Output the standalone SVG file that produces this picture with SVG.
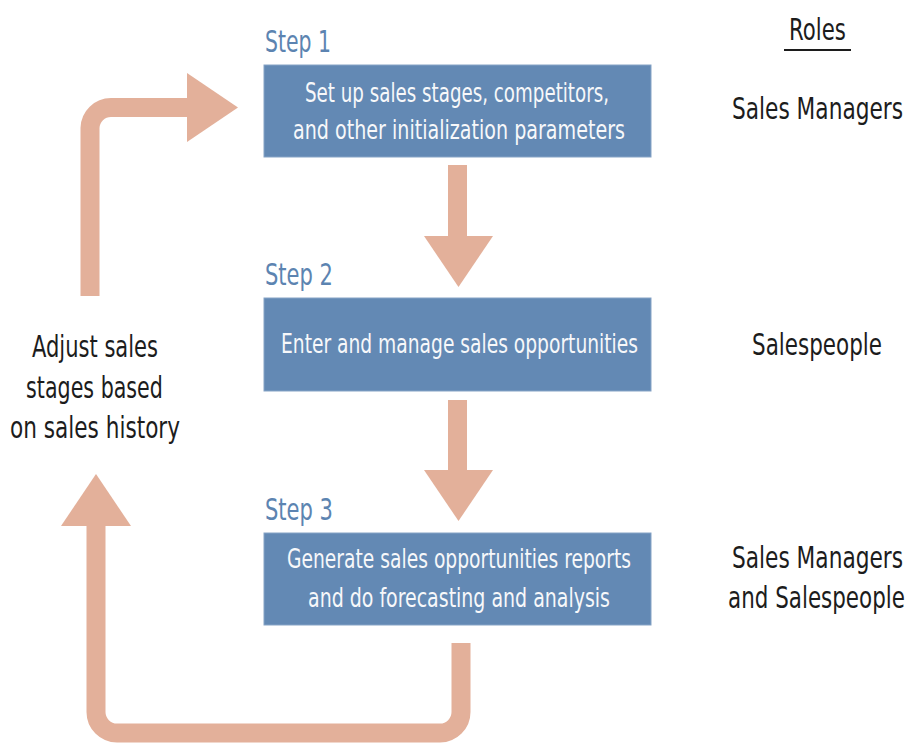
<svg xmlns="http://www.w3.org/2000/svg" width="909" height="743" viewBox="0 0 909 743">
<style>
text{font-family:"Liberation Sans Narrow","DejaVu Sans Condensed","Liberation Sans",sans-serif}
.box{fill:#6389b4;stroke:#86a3c6;stroke-width:1}
.bt{fill:#f7f8fa;font-size:26px;text-anchor:middle}
.step{fill:#5c84b1;font-size:31px}
.role{fill:#1c1c1c;font-size:30px;text-anchor:middle}
.conn{fill:none;stroke:#e3b09a;stroke-width:19}
.head{fill:#e3b09a}
</style>
<rect width="909" height="743" fill="#ffffff"/>
<g id="connectors">
<path class="conn" d="M457.5 165 V238"/>
<polygon class="head" points="424,236 493,236 458.5,287"/>
<path class="conn" d="M457.5 400 V472"/>
<polygon class="head" points="424,470 493,470 458.5,521"/>
<path class="conn" d="M461 643 V712 A21 21 0 0 1 440 733 H117 A21 21 0 0 1 96 712 V524"/>
<polygon class="head" points="61,526 131,526 96,474"/>
<path class="conn" d="M90 296 V128 A21 21 0 0 1 111 107.5 H190"/>
<polygon class="head" points="187,73 238,107.5 187,142"/>
</g>
<g id="step1">
<text class="step" x="265" y="52" textLength="66" lengthAdjust="spacingAndGlyphs">Step 1</text>
<rect class="box" x="264" y="65" width="387" height="92"/>
<text class="bt" x="457" y="102" textLength="304" lengthAdjust="spacingAndGlyphs">Set up sales stages, competitors,</text>
<text class="bt" x="459" y="139" textLength="332" lengthAdjust="spacingAndGlyphs">and other initialization parameters</text>
</g>
<g id="step2">
<text class="step" x="265" y="285" textLength="68" lengthAdjust="spacingAndGlyphs">Step 2</text>
<rect class="box" x="264" y="298" width="387" height="93"/>
<text class="bt" x="459.5" y="353" textLength="357" lengthAdjust="spacingAndGlyphs">Enter and manage sales opportunities</text>
</g>
<g id="step3">
<text class="step" x="265" y="520" textLength="68" lengthAdjust="spacingAndGlyphs">Step 3</text>
<rect class="box" x="264" y="533" width="387" height="92"/>
<text class="bt" x="459" y="568" textLength="344" lengthAdjust="spacingAndGlyphs">Generate sales opportunities reports</text>
<text class="bt" x="459" y="607" textLength="302" lengthAdjust="spacingAndGlyphs">and do forecasting and analysis</text>
</g>
<g id="adjust">
<text class="role" transform="translate(95,357) scale(0.8,1)" font-size="32" textLength="157.5" lengthAdjust="spacingAndGlyphs">Adjust sales</text>
<text class="role" transform="translate(94.5,398) scale(0.8,1)" font-size="32" textLength="171" lengthAdjust="spacingAndGlyphs">stages based</text>
<text class="role" transform="translate(95,438) scale(0.8,1)" font-size="32" textLength="212.5" lengthAdjust="spacingAndGlyphs">on sales history</text>
</g>
<g id="roles">
<text class="role" transform="translate(817.5,40) scale(0.8,1)" textLength="71" lengthAdjust="spacingAndGlyphs">Roles</text>
<line x1="784" y1="50" x2="851" y2="50" stroke="#1c1c1c" stroke-width="2"/>
<text class="role" transform="translate(817.5,119) scale(0.8,1)" textLength="214" lengthAdjust="spacingAndGlyphs">Sales Managers</text>
<text class="role" transform="translate(817,355) scale(0.8,1)" textLength="162.5" lengthAdjust="spacingAndGlyphs">Salespeople</text>
<text class="role" transform="translate(817.5,568) scale(0.8,1)" textLength="214" lengthAdjust="spacingAndGlyphs">Sales Managers</text>
<text class="role" transform="translate(816.5,608) scale(0.8,1)" textLength="221" lengthAdjust="spacingAndGlyphs">and Salespeople</text>
</g>
</svg>
